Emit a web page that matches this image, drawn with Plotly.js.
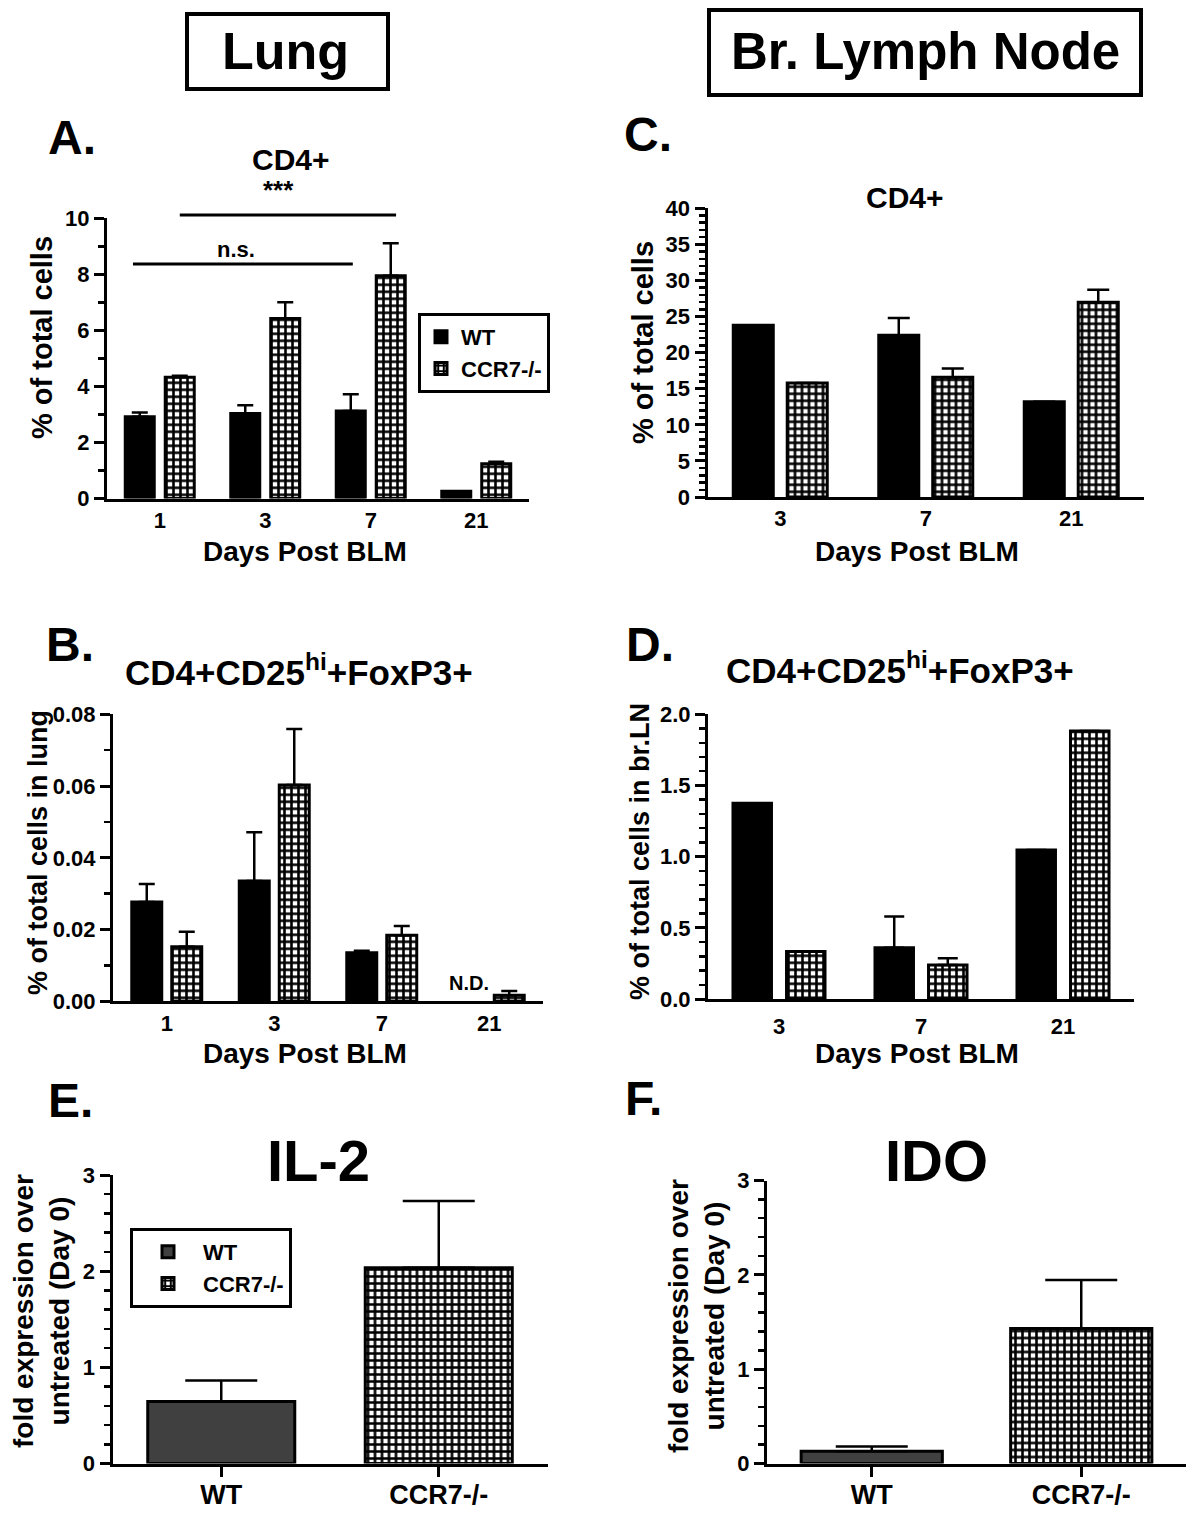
<!DOCTYPE html>
<html>
<head>
<meta charset="utf-8">
<script src="https://cdn.plot.ly/plotly-3.0.1.min.js"></script>
<style>body{margin:0;background:#fff}</style>
</head>
<body>
<div id="plot" style="width:1200px;height:1515px"></div>
<script>
// A. lung CD4+
let lungDays = ['1', '3', '7', '21'];
let lungCd4Wt = [2.92, 3.03, 3.12, 0.26];
let lungCd4WtErr = [0.15, 0.3, 0.6, null];
let lungCd4Ko = [4.33, 6.42, 7.95, 1.24];
let lungCd4KoErr = [0.05, 0.58, 1.16, 0.07];

// B. lung CD4+CD25hi+FoxP3+ (WT day 21 not detected)
let lungTregWt = [0.0277, 0.0335, 0.0135, null];
let lungTregWtErr = [0.005, 0.0136, 0.0006, null];
let lungTregKo = [0.0152, 0.0603, 0.0184, 0.0017];
let lungTregKoErr = [0.0042, 0.0156, 0.0026, 0.0012];

// C. lymph node CD4+
let lnDays = ['3', '7', '21'];
let lnCd4Wt = [23.8, 22.4, 13.2];
let lnCd4WtErr = [null, 2.4, null];
let lnCd4Ko = [15.8, 16.6, 27.0];
let lnCd4KoErr = [null, 1.2, 1.7];

// D. lymph node CD4+CD25hi+FoxP3+
let lnTregWt = [1.375, 0.36, 1.047];
let lnTregWtErr = [null, 0.22, null];
let lnTregKo = [0.333, 0.239, 1.883];
let lnTregKoErr = [null, 0.047, null];

// E, F. fold expression
let genotypes = ['WT', 'CCR7-/-'];
let il2 = [0.645, 2.035];
let il2Err = [0.218, 0.695];
let ido = [0.13, 1.43];
let idoErr = [0.05, 0.515];

const W = 1200, H = 1515;
const px = v => v / W;
const py = v => 1 - v / H;

const FONT = 'Liberation Sans, Arial, Helvetica, sans-serif';

// checkerboard-ish fill for the CCR7-/- bars
let checker = {shape: '+', size: 7, solidity: 0.6, fgcolor: 'black', bgcolor: 'white', fillmode: 'replace'};

function pairTraces(n, x, wt, wtErr, ko, koErr, w, g, cap, legend) {
    let base = {type: 'bar', x: x, xaxis: 'x' + n, yaxis: 'y' + n, width: w};
    let wtTrace = Object.assign({}, base, {
        y: wt, name: 'WT', offset: -w - g / 2,
        marker: {color: 'black', line: {color: 'black', width: 3}},
        error_y: {type: 'data', array: wtErr, arrayminus: wt.map(() => 0), symmetric: false, color: 'black', thickness: 2.5, width: cap},
        showlegend: legend
    });
    let koTrace = Object.assign({}, base, {
        y: ko, name: 'CCR7-/-', offset: g / 2,
        marker: {color: 'white', pattern: checker, line: {color: 'black', width: 3}},
        error_y: {type: 'data', array: koErr, arrayminus: ko.map(() => 0), symmetric: false, color: 'black', thickness: 2.5, width: cap},
        showlegend: legend
    });
    return [wtTrace, koTrace];
}

function singleTraces(n, vals, errs, w, cap) {
    return genotypes.map((gt, i) => ({
        type: 'bar', x: [gt], y: [vals[i]], name: gt,
        xaxis: 'x' + n, yaxis: 'y' + n, width: w, offset: -w / 2,
        marker: i === 0
            ? {color: '#404040', line: {color: 'black', width: 3}}
            : {color: 'white', pattern: checker, line: {color: 'black', width: 3}},
        error_y: {type: 'data', array: [errs[i]], arrayminus: [0], symmetric: false, color: 'black', thickness: 2.5, width: cap},
        legend: 'legend2',
        showlegend: n === 5
    }));
}

let data = [].concat(
    pairTraces(1, lungDays, lungCd4Wt, lungCd4WtErr, lungCd4Ko, lungCd4KoErr, 0.275, 0.104, 8, true),
    pairTraces(2, lungDays, lungTregWt, lungTregWtErr, lungTregKo, lungTregKoErr, 0.279, 0.093, 8, false),
    pairTraces(3, lnDays, lnCd4Wt, lnCd4WtErr, lnCd4Ko, lnCd4KoErr, 0.275, 0.096, 11, false),
    pairTraces(4, lnDays, lnTregWt, lnTregWtErr, lnTregKo, lnTregKoErr, 0.271, 0.106, 10, false),
    singleTraces(5, il2, il2Err, 0.676, 36),
    singleTraces(6, ido, idoErr, 0.674, 36)
);

function xAx(n, left, right, withTicks, standoff) {
    return {
        domain: [px(left), px(right)], anchor: 'y' + n,
        type: 'category', showgrid: false, zeroline: false,
        showline: true, linewidth: 3, linecolor: 'black',
        ticks: withTicks ? 'outside' : '', ticklen: 10, tickwidth: 3, tickcolor: 'black',
        tickfont: {size: withTicks ? 27 : 22},
        ticklabelstandoff: standoff || 0,
        fixedrange: true
    };
}

function yAx(n, bottom, top, range, dtick, minor, fmt) {
    return {
        domain: [py(bottom), py(top)], anchor: 'x' + n,
        range: range, tick0: 0, dtick: dtick, tickformat: fmt,
        showgrid: false, zeroline: false,
        showline: true, linewidth: 3, linecolor: 'black',
        ticks: 'outside', ticklen: 10, tickwidth: 3, tickcolor: 'black',
        minor: {dtick: minor, tick0: 0, ticks: 'outside', ticklen: 6, tickwidth: 2.5, tickcolor: 'black'},
        tickfont: {size: 22},
        fixedrange: true
    };
}

function label(text, x, y, size, extra) {
    return Object.assign({
        text: text, xref: 'paper', yref: 'paper', x: px(x), y: py(y),
        xanchor: 'center', yanchor: 'middle', showarrow: false,
        font: {size: size}
    }, extra || {});
}

let annotations = [
    label('Lung', 285, 51, 52),
    label('Br. Lymph Node', 925, 52, 51),
    label('A.', 72, 137, 48), label('B.', 70, 645, 48), label('C.', 648, 134, 48),
    label('D.', 650, 645, 48), label('E.', 70, 1100, 48), label('F.', 643, 1098, 48),
    label('CD4+', 291, 160, 30), label('CD4+', 905, 197, 30),
    label('CD4+CD25<sup>hi</sup>+FoxP3+', 299, 670, 35),
    label('CD4+CD25<sup>hi</sup>+FoxP3+', 900, 668, 35),
    label('IL-2', 318, 1160, 58), label('IDO', 936, 1160, 58),
    label('% of total cells', 42, 338, 29, {textangle: -90}),
    label('% of total cells', 643, 343, 29, {textangle: -90}),
    label('% of total cells in lung', 38, 853, 27, {textangle: -90}),
    label('% of total cells in br.LN', 640, 852, 27, {textangle: -90}),
    label('fold expression over<br>untreated (Day 0)', 41, 1311, 28, {textangle: -90}),
    label('fold expression over<br>untreated (Day 0)', 696, 1316, 28, {textangle: -90}),
    label('Days Post BLM', 305, 551, 28), label('Days Post BLM', 917, 551, 28),
    label('Days Post BLM', 305, 1053, 28), label('Days Post BLM', 917, 1053, 28),
    // significance marks, panel A
    {text: 'n.s.', xref: 'x', yref: 'y domain', x: 0.72, y: 0.94, showarrow: false, font: {size: 22}},
    {text: '***', xref: 'x', yref: 'y domain', x: 1.13, y: 1.16, showarrow: false, font: {size: 26}},
    // not detected, panel B day 21 WT
    {text: 'N.D.', xref: 'x2', yref: 'y2', x: 2.814, y: 0.005, showarrow: false, font: {size: 20}}
];

let shapes = [
    {type: 'rect', xref: 'paper', yref: 'paper', x0: px(187), x1: px(388), y0: py(14), y1: py(89), line: {color: 'black', width: 4}},
    {type: 'rect', xref: 'paper', yref: 'paper', x0: px(709), x1: px(1141), y0: py(10), y1: py(95), line: {color: 'black', width: 4}},
    {type: 'line', xref: 'x', yref: 'y domain', x0: -0.254, x1: 1.83, y0: 0.837, y1: 0.837, line: {color: 'black', width: 3}},
    {type: 'line', xref: 'x', yref: 'y domain', x0: 0.19, x1: 2.24, y0: 1.012, y1: 1.012, line: {color: 'black', width: 3}}
];

let legendStyle = {
    xanchor: 'left', yanchor: 'top', bgcolor: 'white',
    bordercolor: 'black', borderwidth: 3, font: {size: 22}, traceorder: 'normal'
};

let layout = {
    width: W, height: H,
    margin: {l: 0, r: 0, t: 0, b: 0},
    paper_bgcolor: 'white', plot_bgcolor: 'white',
    font: {family: FONT, color: 'black', weight: 'bold'},
    barmode: 'group',
    xaxis: xAx(1, 107, 529, false), yaxis: yAx(1, 498.5, 218.3, [0, 10], 2, 1),
    xaxis2: xAx(2, 113, 543, false), yaxis2: yAx(2, 1001.3, 714.3, [0, 0.08], 0.02, 0.01, '.2f'),
    xaxis3: xAx(3, 707.5, 1144, false), yaxis3: yAx(3, 497, 208.3, [0, 40], 5, 1),
    xaxis4: xAx(4, 708, 1134, false, 6), yaxis4: yAx(4, 999, 714.3, [0, 2], 0.5, 0.1, '.1f'),
    xaxis5: xAx(5, 112.5, 547.5, true, -5), yaxis5: yAx(5, 1463.5, 1175, [0, 3], 1, 0.2),
    xaxis6: xAx(6, 767, 1186, true, -5), yaxis6: yAx(6, 1463.5, 1180.5, [0, 3], 1, 0.2),
    legend: Object.assign({x: px(418), y: py(313)}, legendStyle),
    legend2: Object.assign({x: px(130), y: py(1228), itemwidth: 60}, legendStyle),
    annotations: annotations,
    shapes: shapes
};

Plotly.newPlot('plot', data, layout, {displayModeBar: false, staticPlot: true});
</script>
</body>
</html>
